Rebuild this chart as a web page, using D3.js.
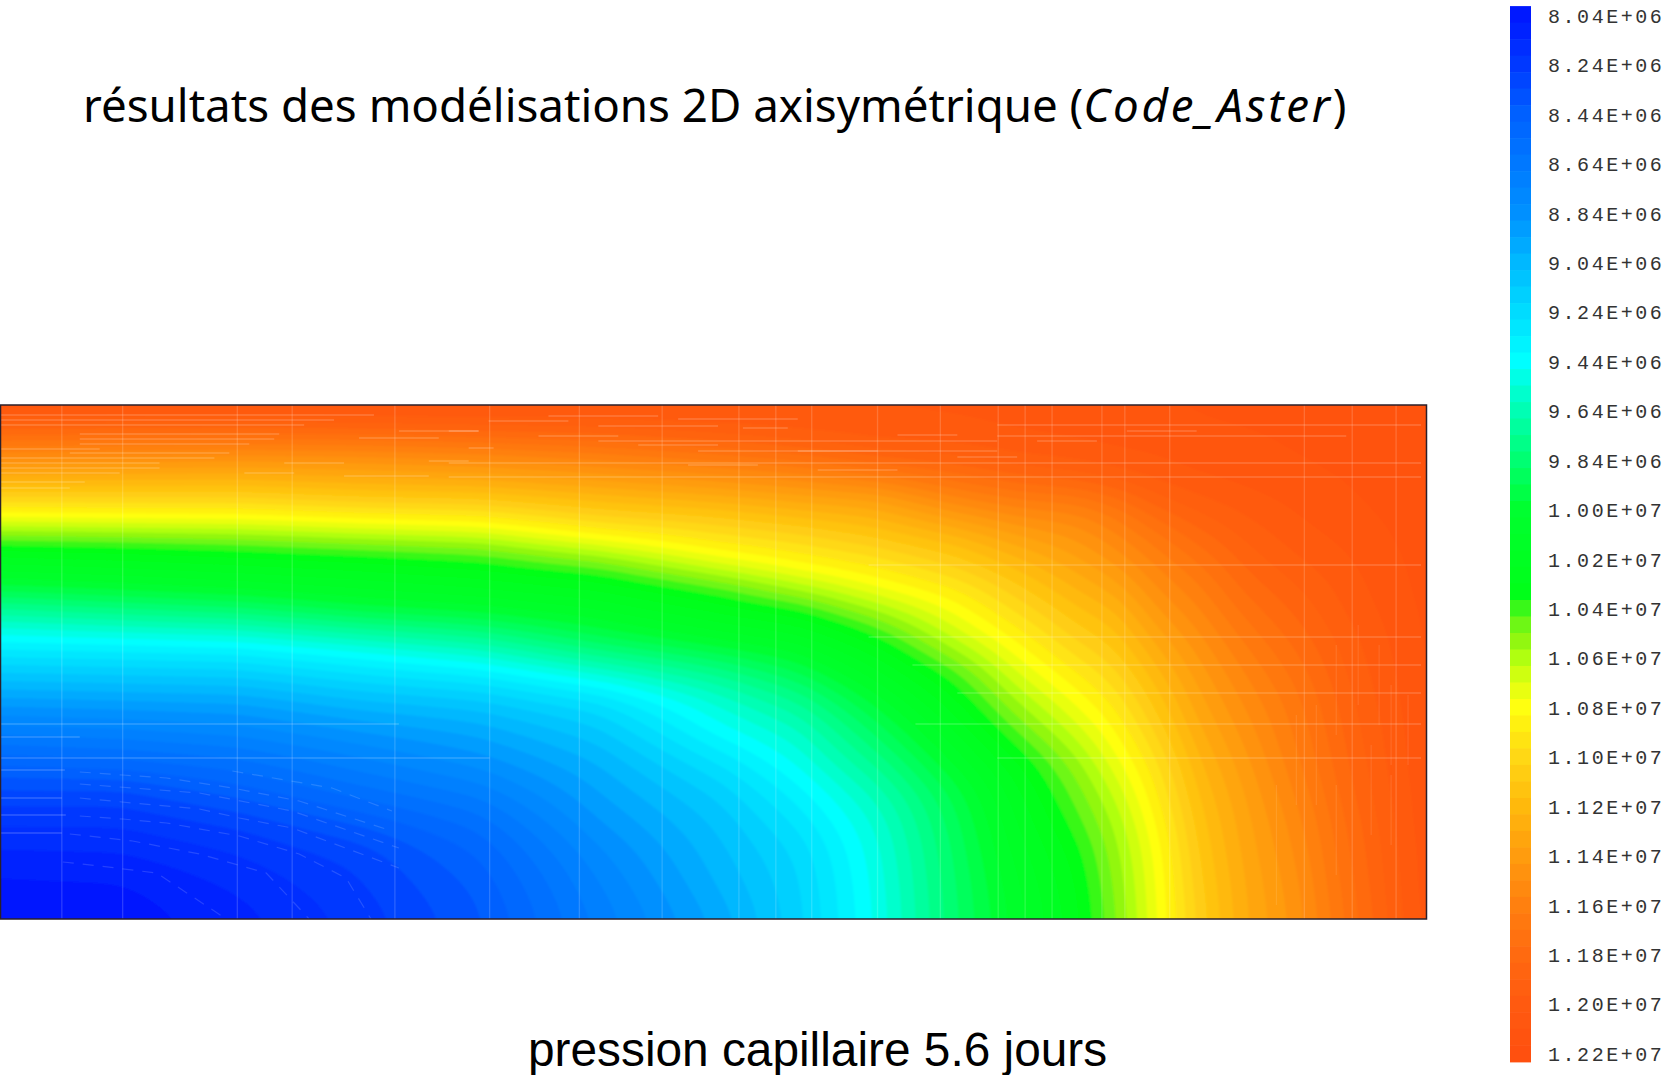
<!DOCTYPE html>
<html lang="fr">
<head>
<meta charset="utf-8">
<title>pression capillaire 5.6 jours</title>
<script src="https://cdn.jsdelivr.net/npm/d3@7/dist/d3.min.js"></script>
<style>
html,body{margin:0;padding:0;background:#fff}
svg{display:block}
</style>
</head>
<body>
<svg id="chart" width="1668" height="1075"></svg>
<script>
// ---- text ----
const titleBefore = "résultats des modélisations 2D axisymétrique (";
const titleItalic = "Code_Aster";
const titleAfter = ")";
const caption = "pression capillaire 5.6 jours";

// ---- colour bar ----
const legendLabels = ["8.04E+06","8.24E+06","8.44E+06","8.64E+06","8.84E+06","9.04E+06","9.24E+06","9.44E+06","9.64E+06","9.84E+06","1.00E+07","1.02E+07","1.04E+07","1.06E+07","1.08E+07","1.10E+07","1.12E+07","1.14E+07","1.16E+07","1.18E+07","1.20E+07","1.22E+07"];
const bandCount = 64;
const valueMin = 80.04, valueMax = 122.76;   // unit: 1e5 Pa
const colourStops = [80.4,82.4,84.4,86.4,88.4,90.4,92.4,94.4,96.4,98.4,100.4,103.9,104.3,105,105.7,106.4,107,107.7,108.4,109.2,110.4,112.4,114.4,116.4,118.4,120.4,122.4];
const colourValues = ["#0018ff","#0038ff","#0060ff","#0078ff","#0090ff","#00b8ff","#00dcff","#00ffff","#00ffb4","#00ff72","#00ff30","#00ff18","#30f81a","#6af716","#90f710","#b0ff10","#ccff10","#e8ff10","#ffff10","#ffee10","#ffd815","#ffb90c","#ff9c0e","#ff800f","#ff6a10","#ff5a10","#ff500f"];

// ---- field: mesh nodes and capillary pressure (1e5 Pa) read column by column ----
const rNodes = [0,120,240,360,480,600,720,800,880,960,1020,1080,1120,1160,1200,1250,1300,1360,1430];
const depthNodes = [0,16,36,56,76,96,116,136,156,181,206,236,266,296,326,356,386,416,446,481,514];
const pressureByColumn = [
 [121.5,119.8,117.4,115.1,112.7,110.3,107.7,104.3,102.2,100.2,97,94.1,91.5,89.1,86.9,85,83.2,82.2,81.3,80.5,80.2],
 [121.4,119.8,117.2,114.9,112.6,110.4,107.9,104.5,102.6,100.6,97.8,94.3,91.7,89.3,87.2,85.3,83.2,82.2,81.4,80.6,80.3],
 [121.4,119.7,117.1,114.7,112.6,110.4,108,104.9,103,101.1,98.5,94.6,91.9,89.5,87.7,85.9,84.4,82.9,82.1,81.5,81.1],
 [121.3,120,117.2,114.8,113.1,111,108.5,105.6,103.4,101.6,99.8,95.7,92.9,90.6,88.7,87.2,85.8,84.2,83,82.6,82.3],
 [121.2,120.2,117.5,115.3,113.3,111.2,109,106.1,104,102.2,100.4,97,93.8,91.2,89.6,88.4,87,85.7,84.8,84.2,83.9],
 [121,120.3,118,116,114,112.1,110.4,108,105.3,103,101.3,99.2,95.7,92.6,91.2,90.1,89.4,88.7,87.9,87.3,86.9],
 [120.8,120.5,119,116.6,114.9,112.8,111,109.6,107.8,104.7,102.9,100.7,97.7,95.5,94.4,92.8,91.6,90.9,90.5,90.1,89.6],
 [120.8,120.5,119.8,117.2,115.4,113.5,111.7,110.2,109,106.5,103.9,101.5,99.5,97.4,95.9,94.9,93.8,92.9,92.2,91.9,91.8],
 [120.8,120.6,120.3,118.6,116,114,112.5,111.2,109.8,108.3,106,103.7,102,100.4,99,97.7,96.4,95.6,95.2,95,94.9],
 [120.9,120.7,120.4,119.2,117.5,115.8,114,112.2,111.2,109.6,108.3,106.8,104.7,103.4,102.2,101,99.8,99.3,99,98.8,98.7],
 [121,120.9,120.6,119.9,118.3,116.6,115,113.7,112.5,111.3,110.2,108.8,107.5,106.1,104.8,103.4,102.6,102.1,101.7,101.3,101.1],
 [121.2,121,120.8,120.2,118.9,116.8,115.6,114.7,113.9,112.9,111.9,110.8,109.5,108.3,107.1,105.9,105.1,104.5,103.8,103.4,103.2],
 [121.3,121.1,120.9,120.6,119.4,117.8,116.5,115.8,114.9,113.9,112.7,111.7,110.7,109.7,108.8,107.9,107,106.3,105.9,105.6,105.4],
 [121.4,121.2,121,120.7,120.2,119.1,118,117,116.3,115.5,114.7,113.6,112.6,111.7,110.9,110,109.4,108.8,108.3,108.1,108],
 [121.5,121.4,121.2,121,120.6,119.9,119,118.2,117.4,116.6,115.9,115.1,114.4,113.8,113.2,112.6,112.1,111.7,111.4,111.1,110.9],
 [121.6,121.5,121.3,121.2,120.9,120.5,120,119.5,119,118.4,117.7,116.9,116.2,115.6,115.1,114.6,114.2,113.9,113.7,113.5,113.4],
 [121.7,121.6,121.5,121.4,121.2,120.9,120.7,120.4,120,119.4,118.9,118.3,117.7,117.2,116.9,116.6,116.2,115.8,115.5,115.2,115],
 [121.8,121.8,121.7,121.6,121.5,121.4,121.2,121,120.8,120.6,120.4,120,119.8,119.5,119.3,119.1,118.9,118.6,118.4,118.2,118],
 [122,122,122,122,121.9,121.9,121.8,121.8,121.7,121.7,121.6,121.6,121.5,121.5,121.4,121.4,121.3,121.3,121.2,121.2,121.1]
];

// ---- faint mesh traces seen on the picture ----
const meshRadii = [62,123,238,293,396,491,581,664,741,778,814,880,943,1001,1028,1055,1105,1128,1173,1308,1356,1400];
// [r start, r end, depth]
const meshRows = [
 [0,375,10],[0,335,15],[0,305,20],[80,280,29],[80,275,34],[80,250,39],[70,230,48],[0,215,53],[0,160,58],[0,160,63],[0,120,68],[0,85,77],[0,100,44],[0,70,83],
 [285,345,58],[245,295,68],[345,430,71],[360,440,33],[400,480,26],[430,470,56],[470,495,43],[550,660,11],[490,570,16],[600,720,21],[680,800,14],[745,790,23],[450,480,26],[540,620,31],
 [640,720,40],[800,880,46],[900,960,30],[690,760,60],[820,900,65],[960,1020,52],[1040,1100,36],[1130,1200,26],
 [450,1000,58],[450,1000,72],[600,1000,36],[700,1000,46],[1000,1425,20],[1000,1350,31],[1000,1425,58],[1000,1425,72],
 [871,1425,160],[871,1425,232],[915,1425,260],[960,1425,288],[918,1425,319],[1000,1425,353],
 [0,400,319],[0,491,353],[0,80,332],[0,65,365],[0,62,393],[0,66,410],[0,62,428]
];
// [r, depth start, depth end]
const meshTicks = [[1340,240,330],[1362,220,300],[1383,240,320],[1395,280,360],[1412,290,360],[1320,300,400],[1300,310,400],[1375,340,430],[1340,380,470],[1395,370,440],[1280,380,500]];
const faintCurves = [
 [[63,457],[100,461],[157,468],[227,514]],
 [[70,429],[133,436],[200,449],[267,468],[310,514]],
 [[80,411],[123,414],[167,418],[240,431],[300,449],[347,473],[372,514]],
 [[80,393],[133,398],[200,404],[240,413],[293,423],[400,463]],
 [[80,379],[133,383],[200,388],[293,406],[400,443]],
 [[80,367],[123,370],[167,373],[233,383],[300,396],[393,426]],
 [[233,366],[333,383],[393,406]]
];

// ---- scales ----
const svg = d3.select("#chart");
const plot = {left:0, right:1426, top:405, bottom:919};
const x = d3.scaleLinear().domain([0,1430]).range([plot.left,plot.right]);
const y = d3.scaleLinear().domain([0,514]).range([plot.top,plot.bottom]);
const colIndex = d3.scaleLinear().domain(rNodes).range(rNodes.map((_,i)=>i)).clamp(true);
const rowIndex = d3.scaleLinear().domain(depthNodes).range(depthNodes.map((_,i)=>i)).clamp(true);
const colour = d3.scaleLinear().domain(colourStops).range(colourValues).interpolate(d3.interpolateRgb);
const bandStep = (valueMax-valueMin)/bandCount;
const bands = d3.range(bandCount).map(k=>({lo:valueMin+k*bandStep, hi:valueMin+(k+1)*bandStep}));

// ---- field: the table is sampled on a fine raster so that the iso-bands come out round ----
const cell = 4, margin = 24;
const fineR = d3.range(-margin, 1430+margin+cell, cell);
const fineZ = d3.range(-margin, 514+margin+cell, cell);
const fine = new Float64Array(fineR.length*fineZ.length);
fineZ.forEach((z,j)=>{
  const rf = rowIndex(z), j0 = Math.min(Math.floor(rf), depthNodes.length-2), tz = rf-j0;
  fineR.forEach((r,i)=>{
    const cf = colIndex(r), i0 = Math.min(Math.floor(cf), rNodes.length-2), tr = cf-i0;
    const a = pressureByColumn[i0][j0]*(1-tz)+pressureByColumn[i0][j0+1]*tz;
    const b = pressureByColumn[i0+1][j0]*(1-tz)+pressureByColumn[i0+1][j0+1]*tz;
    fine[j*fineR.length+i] = a*(1-tr)+b*tr;
  });
});
if (d3.blur2) d3.blur2({data:fine,width:fineR.length,height:fineZ.length},3);
const contours = d3.contours().size([fineR.length,fineZ.length]).smooth(true);
const geo = d3.geoPath(d3.geoTransform({point(a,b){
  this.stream.point(x(-margin+(a-0.5)*cell), y(-margin+(b-0.5)*cell));
}}));

const defs = svg.append("defs");
defs.append("clipPath").attr("id","plotClip").append("rect")
  .attr("x",plot.left).attr("y",plot.top).attr("width",plot.right-plot.left).attr("height",plot.bottom-plot.top);
defs.append("filter").attr("id","soft").attr("x","0").attr("y","0").attr("width","100%").attr("height","100%")
  .append("feGaussianBlur").attr("stdDeviation",0.9);

const field = svg.append("g").attr("clip-path","url(#plotClip)");
const bandsGroup = field.append("g").attr("filter","url(#soft)");
bandsGroup.selectAll("path.band").data(bands).join("path").attr("class","band")
  .attr("d",b=>geo(contours.contour(fine,b.lo)))
  .attr("fill",b=>colour((b.lo+b.hi)/2));

// mesh traces
const mesh = field.append("g").attr("stroke","#fff").attr("fill","none");
mesh.selectAll("line.v").data(meshRadii).join("line").attr("class","v")
  .attr("x1",d=>x(d)).attr("x2",d=>x(d)).attr("y1",plot.top).attr("y2",plot.bottom)
  .attr("stroke-opacity",0.17).attr("stroke-width",1.3);
mesh.selectAll("line.h").data(meshRows).join("line").attr("class","h")
  .attr("x1",d=>x(d[0])).attr("x2",d=>x(d[1])).attr("y1",d=>y(d[2])).attr("y2",d=>y(d[2]))
  .attr("stroke-opacity",0.19).attr("stroke-width",1.6);
mesh.selectAll("line.t").data(meshTicks).join("line").attr("class","t")
  .attr("x1",d=>x(d[0])).attr("x2",d=>x(d[0])).attr("y1",d=>y(d[1])).attr("y2",d=>y(d[2]))
  .attr("stroke-opacity",0.1).attr("stroke-width",1.2);
const curve = d3.line().x(d=>x(d[0])).y(d=>y(d[1]));
mesh.selectAll("path.c").data(faintCurves).join("path").attr("class","c")
  .attr("d",curve).attr("stroke-opacity",0.14).attr("stroke-width",1.2).attr("stroke-dasharray","11 9");

svg.append("rect").attr("x",plot.left+0.5).attr("y",plot.top)
  .attr("width",plot.right-plot.left).attr("height",plot.bottom-plot.top)
  .attr("fill","none").attr("stroke","#2a1f2a").attr("stroke-width",1.5);

// ---- colour bar ----
const legendY = d3.scaleLinear().domain([80.4,122.4]).range([15,1053]);
const bar = svg.append("g");
bar.selectAll("rect").data(bands).join("rect")
  .attr("x",1510).attr("width",21)
  .attr("y",b=>legendY(b.lo)).attr("height",b=>legendY(b.hi)-legendY(b.lo)+0.5)
  .attr("fill",b=>colour((b.lo+b.hi)/2));

const labelScale = d3.scalePoint().domain(legendLabels).range([16,1054]);
const axis = svg.append("g").attr("transform","translate(1548,0)")
  .call(d3.axisRight(labelScale).tickSize(0).tickPadding(0));
axis.select(".domain").remove();
axis.selectAll("text")
  .attr("fill","#333").attr("font-family","'Liberation Mono',monospace")
  .attr("font-size",20).attr("letter-spacing","2.55px").attr("text-anchor","start");

// ---- titles ----
const title = svg.append("text").attr("x",83).attr("y",122)
  .attr("font-family","'Noto Sans',sans-serif").attr("font-size",45.7).attr("fill","#000");
title.append("tspan").text(titleBefore);
title.append("tspan").attr("font-style","italic").attr("letter-spacing","2.8px").text(titleItalic);
title.append("tspan").text(titleAfter);
svg.append("text").attr("x",528).attr("y",1066)
  .attr("font-family","'Liberation Sans',sans-serif").attr("font-size",47.8).attr("fill","#000").text(caption);
</script>
</body>
</html>
